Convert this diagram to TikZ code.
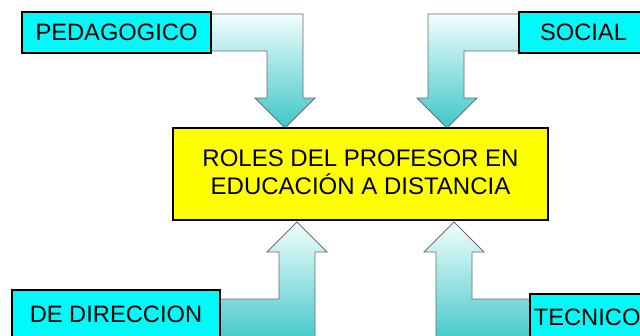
\documentclass[tikz,border=0pt]{standalone}
\usepackage{fontspec}
\setmainfont{Liberation Sans}
\definecolor{arrtop}{RGB}{242,253,253}
\definecolor{arrbot}{RGB}{62,198,200}
\definecolor{boxcyan}{RGB}{0,250,250}
\definecolor{boxyellow}{RGB}{255,255,0}
\begin{document}
\begin{tikzpicture}[x=1pt,y=-1pt,
  arr/.style={draw=gray!85!black, line width=0.8pt, top color=arrtop, bottom color=arrbot},
  rolebox/.style={draw=black, line width=1.6pt, fill=boxcyan, inner sep=0pt,
    font=\fontsize{23.7}{28}\selectfont, text=black},
  centrebox/.style={draw=black, line width=1.6pt, fill=boxyellow, inner sep=0pt,
    align=center, font=\fontsize{24}{28}\selectfont, text=black}]
\useasboundingbox (0,0) rectangle (640,335);
\clip (0,0) rectangle (640,335);
\fill[white] (0,0) rectangle (640,335);
% arrows
\draw[arr] (205,14) -- (303,14) -- (303,98) -- (315,98) -- (285,128) -- (255,98) -- (267,98) -- (267,51) -- (205,51) -- cycle;
\draw[arr] (525,14) -- (428,14) -- (428,98) -- (417,98) -- (447,128) -- (477,98) -- (464,98) -- (464,51) -- (525,51) -- cycle;
\draw[arr] (214,299) -- (279,299) -- (279,252) -- (267,252) -- (297,222) -- (327,252) -- (315,252) -- (315,345) -- (214,345) -- cycle;
\draw[arr] (535,299) -- (472,299) -- (472,252) -- (484,252) -- (454,222) -- (424,252) -- (436,252) -- (436,345) -- (535,345) -- cycle;
% boxes
\node[rolebox, minimum width=189pt, minimum height=41pt] (ped) at (116.5,32.5) {PEDAGOGICO};
\node[rolebox, minimum width=129pt, minimum height=41pt] (soc) at (583.5,32.5) {SOCIAL};
\node[rolebox, minimum width=208pt, minimum height=48pt] (dir) at (116,314) {DE DIRECCION};
\node[rolebox, anchor=north west, inner xsep=4pt, text width=110pt, align=left, minimum height=48pt] (tec) at (529,293) {TECNICO};
\node[centrebox, minimum width=375pt, minimum height=92pt] (roles) at (360.5,174) {ROLES DEL PROFESOR EN\\EDUCACIÓN A DISTANCIA\rule[-3pt]{0pt}{1pt}};
\end{tikzpicture}
\end{document}
